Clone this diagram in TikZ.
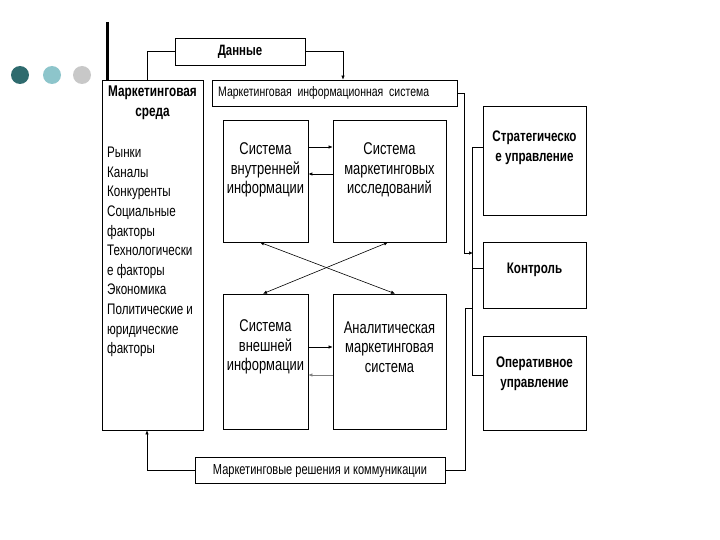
\documentclass[tikz,border=0pt]{standalone}
\usepackage{fontspec}
\setmainfont{Liberation Sans}[FakeStretch=0.76]
\usetikzlibrary{arrows.meta,calc}
\definecolor{dteal}{HTML}{2E6B6E}
\definecolor{lteal}{HTML}{8DC5CB}
\definecolor{lgray}{HTML}{C8C8C8}
\begin{document}
\begin{tikzpicture}[x=1pt,y=-1pt,
  box/.style={draw=black,line width=0.7pt,inner sep=0pt,fill=white},
  lnk/.style={line width=0.6pt},
  arr/.style={lnk,-{Latex[length=4pt,width=3.5pt]}},
  darr/.style={lnk,{Latex[length=4pt,width=3.5pt]}-{Latex[length=4pt,width=3.5pt]}},
  ttl/.style={font=\bfseries\fontsize{15.3}{20}\selectfont,align=center,inner sep=0pt},
  txt/.style={font=\fontsize{17}{19.5}\selectfont,align=center,inner sep=0pt},
  dot/.style={circle,minimum size=18pt,inner sep=0pt},
]
\useasboundingbox (0,0) rectangle (720,540);
% decorative dots and bar
\node[dot,fill=dteal] (c1) at (20,75) {};
\node[dot,fill=lteal] (c2) at (52,75) {};
\node[dot,fill=lgray] (c3) at (82,75) {};
\coordinate (bar1) at (107.5,22);
\coordinate (bar2) at (107.5,80);
\draw[line width=3pt] (bar1) -- (bar2);
% boxes
\node[box,minimum width=101pt,minimum height=350pt] (env) at (152.5,255) {};
\node[box,minimum width=130pt,minimum height=27pt] (dat) at (240,51.5) {};
\node[box,minimum width=245pt,minimum height=26pt] (mis) at (334.5,93) {};
\node[box,minimum width=85pt,minimum height=122pt] (sib) at (265.5,181) {};
\node[box,minimum width=113pt,minimum height=122pt] (smi) at (389.5,181) {};
\node[box,minimum width=85pt,minimum height=135pt] (svi) at (265.5,361.5) {};
\node[box,minimum width=113pt,minimum height=135pt] (ams) at (389.5,361.5) {};
\node[box,minimum width=103pt,minimum height=109pt] (str) at (534.5,160.5) {};
\node[box,minimum width=103pt,minimum height=66pt] (kon) at (534.5,275) {};
\node[box,minimum width=103pt,minimum height=94pt] (opr) at (534.5,383) {};
\node[box,minimum width=250pt,minimum height=26pt] (dec) at (320,470) {};
% texts
\node[ttl,font=\bfseries\fontsize{15.5}{20}\selectfont] (envt) at (152.5,103) {Маркетинговая\\среда};
\node[inner sep=0pt,anchor=north west,align=left,font=\fontsize{15.3}{19.6}\selectfont] (envl) at (107,147)
  {Рынки\\Каналы\\Конкуренты\\Социальные\\факторы\\Технологически\\е факторы\\Экономика\\Политические и\\юридические\\факторы};
\node[ttl,font=\bfseries\fontsize{15}{18}\selectfont] (datt) at (dat) {Данные};
\node[inner sep=0pt,anchor=west,font=\fontsize{13.8}{15}\selectfont] (mist) at (218,93) {Маркетинговая\ \ информационная\ \ система};
\node[txt] (sibt) at (265.5,170) {Система\\внутренней\\информации};
\node[txt] (smit) at (389.5,170) {Система\\маркетинговых\\исследований};
\node[txt] (svit) at (265.5,347) {Система\\внешней\\информации};
\node[txt] (amst) at (389.5,347) {Аналитическая\\маркетинговая\\система};
\node[ttl] (strt) at (534.5,147.5) {Стратегическо\\е управление};
\node[ttl] (kont) at (534.5,270) {Контроль};
\node[ttl] (oprt) at (534.5,374) {Оперативное\\управление};
\node[inner sep=0pt,font=\fontsize{14.5}{17}\selectfont] (dect) at (320,471) {Маркетинговые решения и коммуникации};
% connectors top
\draw[lnk] ([xshift=-5.5pt]env.north) |- (dat.west);
\draw[arr] (dat.east) -| ([xshift=8.5pt]mis.north);
% inner arrows
\draw[arr] ([yshift=34pt]sib.east) -- ([yshift=34pt]smi.west);
\draw[arr,line width=0.9pt] ([yshift=7pt]smi.west) -- ([yshift=7pt]sib.east);
\draw[arr] ([yshift=14.5pt]svi.east) -- ([yshift=14.5pt]ams.west);
\draw[arr,gray] ([yshift=-13.5pt]ams.west) -- ([yshift=-13.5pt]svi.east);
\draw[darr] ([xshift=-5.5pt]sib.south) -- ([xshift=5.5pt]ams.north);
\draw[darr] ([xshift=-1.5pt]smi.south) -- ([xshift=-2.5pt]svi.north);
% bracket on right
\draw[lnk] ([yshift=13.5pt]str.west) -- ++(-10,0) |- ([yshift=8pt]opr.west);
\draw[lnk] ([yshift=7pt]kon.west) -- ++(-10,0);
\coordinate (misin) at (473,253);
\coordinate (decin) at (473,308);
\draw[arr] (mis.east) -| ([xshift=-9pt]misin) -- (misin);
\draw[lnk] (dec.east) -| ([xshift=-8pt]decin) -- (decin);
\draw[arr] (dec.west) -| ([xshift=-5.5pt]env.south);
\end{tikzpicture}
\end{document}
